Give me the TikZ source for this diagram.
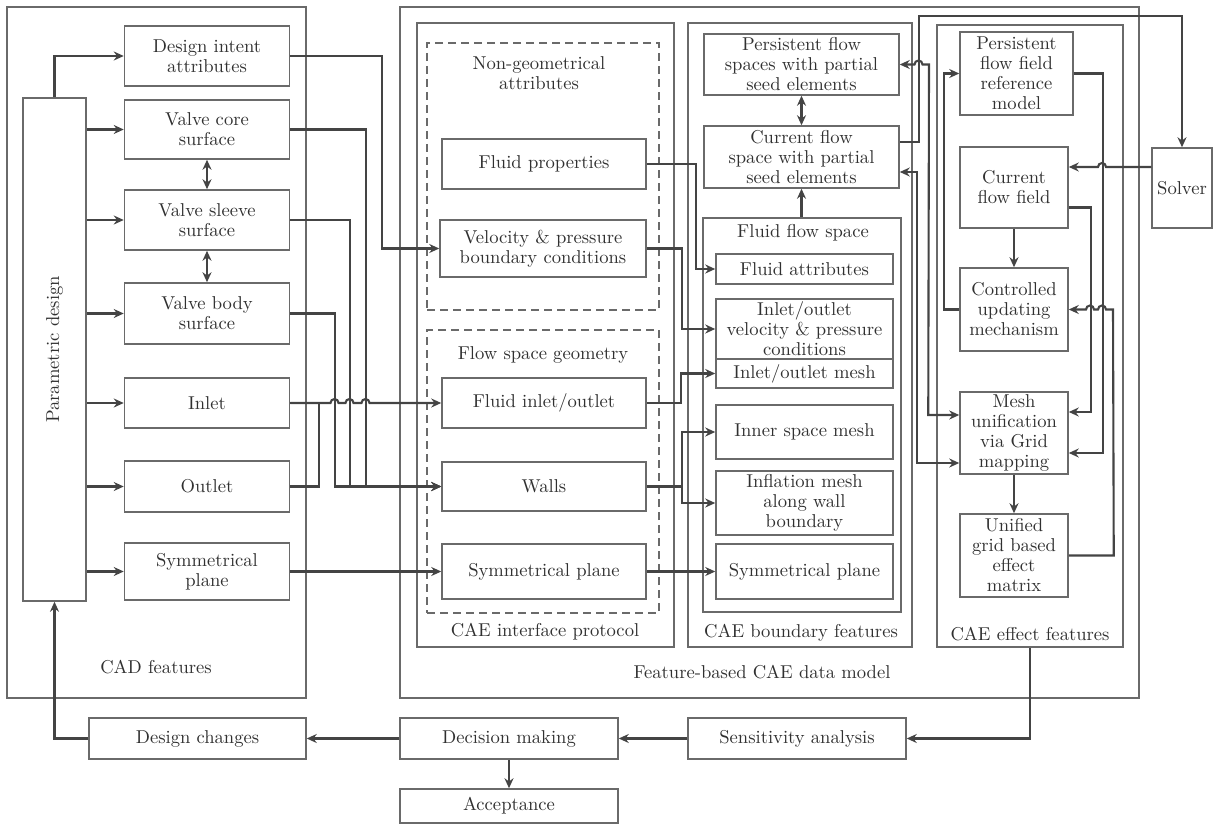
\documentclass[tikz,border=0pt]{standalone}
\usepackage{fontspec}
\setmainfont{lmroman10-regular.otf}
\usepackage{tikz}
\usetikzlibrary{arrows.meta}
\definecolor{inkgray}{HTML}{303030}
\definecolor{edgegray}{HTML}{6A6A6A}
\definecolor{wiregray}{HTML}{444444}

\begin{document}
\begin{tikzpicture}[x=1pt,y=-1pt,
	font=\fontsize{18.6}{20}\selectfont, text=inkgray,
	box/.style={draw=edgegray,line width=1.5pt,align=center,inner sep=1pt},
	frame/.style={draw=edgegray,line width=1.5pt,inner sep=0pt},
	dframe/.style={frame,dash pattern=on 8pt off 5pt},
	link/.style={draw=wiregray,line width=2.1pt},
	conn/.style={link,-{Stealth[length=10pt,width=9pt]}},
	dconn/.style={link,{Stealth[length=10pt,width=9pt]}-{Stealth[length=10pt,width=9pt]}},
	]
	\useasboundingbox (0,0) rectangle (1213,824);
	
	% frames
	\node[frame,minimum width=299,minimum height=691] (cad) at (156.5,352.5) {};
	\node[frame,minimum width=739,minimum height=691] (fbm) at (769.5,352.5) {};
	\node[frame,minimum width=257,minimum height=624] (cip) at (545.5,335) {};
	\node[dframe,minimum width=232,minimum height=267] (nga) at (543,176.5) {};
	\node[dframe,minimum width=232,minimum height=283] (fsg) at (543,471.5) {};
	\node[frame,minimum width=224,minimum height=624] (cbf) at (800,335) {};
	\node[frame,minimum width=198,minimum height=394] (ffs) at (802,415) {};
	\node[frame,minimum width=186,minimum height=622] (cef) at (1030,336) {};
	
	\node (cadlbl) at (156,667) {CAD features};
	\node (fbmlbl) at (762,672) {Feature-based CAE data model};
	\node (ciplbl) at (545,632) {CAE interface protocol};
	\node (cbflbl) at (801,633) {CAE boundary features};
	\node (ceflbl) at (1030,634) {CAE effect features};
	\node[align=center] (ngalbl) at (539,73) {Non-geometrical\\attributes};
	\node (fsglbl) at (543,355) {Flow space geometry};
	\node (ffslbl) at (803,233) {Fluid flow space};
	
	% CAD features
	\node[box,minimum width=63,minimum height=503] (par) at (54.5,349.5) {};
	\node[rotate=90] (partxt) at (par.center) {Parametric design};
	\node[box,minimum width=165,minimum height=60] (dia) at (207,56) {Design intent\\attributes};
	\node[box,minimum width=165,minimum height=59] (vcore) at (207,129.5) {Valve core\\surface};
	\node[box,minimum width=165,minimum height=60] (vsleeve) at (207,220) {Valve sleeve\\surface};
	\node[box,minimum width=165,minimum height=61] (vbody) at (207,313.5) {Valve body\\surface};
	\node[box,minimum width=165,minimum height=50] (inl) at (207,403) {Inlet};
	\node[box,minimum width=165,minimum height=51] (outl) at (207,486.5) {Outlet};
	\node[box,minimum width=165,minimum height=57] (symc) at (207,571.5) {Symmetrical\\plane};
	
	% CAE interface protocol
	\node[box,minimum width=204,minimum height=50] (fp) at (544,164) {Fluid properties};
	\node[box,minimum width=206,minimum height=57] (vpb) at (543,248.5) {Velocity \& pressure\\boundary conditions};
	\node[box,minimum width=204,minimum height=50] (fio) at (544,403) {Fluid inlet/outlet};
	\node[box,minimum width=204,minimum height=49] (wal) at (544,486.5) {Walls};
	\node[box,minimum width=204,minimum height=55] (symi) at (544,571.5) {Symmetrical plane};
	
	% CAE boundary features
	\node[box,minimum width=195,minimum height=61] (pfs) at (801.5,64.5) {Persistent flow\\spaces with partial\\seed elements};
	\node[box,minimum width=195,minimum height=62] (cfs) at (801.5,157) {Current flow\\space with partial\\seed elements};
	\node[box,minimum width=177,minimum height=30] (fat) at (804.5,269) {Fluid attributes};
	\node[box,minimum width=177,minimum height=60] (vpc) at (804.5,329) {Inlet/outlet\\velocity \& pressure\\conditions};
	\node[box,minimum width=177,minimum height=29] (iom) at (804.5,373.5) {Inlet/outlet mesh};
	\node[box,minimum width=177,minimum height=54] (ism) at (804.5,432) {Inner space mesh};
	\node[box,minimum width=177,minimum height=64] (inf) at (804.5,503) {Inflation mesh\\along wall\\boundary};
	\node[box,minimum width=177,minimum height=55] (symb) at (804.5,571.5) {Symmetrical plane};
	
	% CAE effect features
	\node[box,minimum width=113,minimum height=83] (pfr) at (1016.5,73.5) {Persistent\\flow field\\reference\\model};
	\node[box,minimum width=108,minimum height=81] (cff) at (1014,187.5) {Current\\flow field};
	\node[box,minimum width=108,minimum height=83] (cum) at (1014,309.5) {Controlled\\updating\\mechanism};
	\node[box,minimum width=108,minimum height=82] (mug) at (1014,433) {Mesh\\unification\\via Grid\\mapping};
	\node[box,minimum width=108,minimum height=83] (ugm) at (1014,555.5) {Unified\\grid based\\effect\\matrix};
	\node[box,minimum width=60,minimum height=80] (sol) at (1182,188) {Solver};
	
	% bottom row
	\node[box,minimum width=217,minimum height=41] (dch) at (197.5,738.5) {Design changes};
	\node[box,minimum width=218,minimum height=41] (dmk) at (509,738.5) {Decision making};
	\node[box,minimum width=218,minimum height=41] (sens) at (797,738.5) {Sensitivity analysis};
	\node[box,minimum width=218,minimum height=34] (acc) at (509,806) {Acceptance};
	
	% CAD side
	\draw[conn] (par.north) |- (dia.west);
	\foreach \n in {vcore,vsleeve,vbody,inl,outl,symc}
		\draw[conn] (par.east |- \n.west) -- (\n.west);
	\draw[dconn] (vcore.south) -- (vsleeve.north);
	\draw[dconn] (vsleeve.south) -- (vbody.north);
	
	% CAD -> interface
	\draw[conn] (dia.east) -- ++(92,0) |- (vpb.west);
	\draw[conn] (vcore.east) -- ++(76,0) |- (wal.west);
	\draw[conn] (vsleeve.east) -- ++(60,0) |- (wal.west);
	\draw[conn] (vbody.east) -- ++(45,0) |- (wal.west);
	\draw[conn] (inl.east) -- (330.5,403) arc[start angle=180,end angle=360,radius=4]
		-- (345.5,403) arc[start angle=180,end angle=360,radius=4]
		-- (361.5,403) arc[start angle=180,end angle=360,radius=4] -- (fio.west);
	\draw[link] (outl.east) -- ++(29,0) |- (inl.east);
	\draw[conn] (symc.east) -- (symi.west);
	
	% interface -> boundary
	\draw[conn] (fp.east) -- ++(49,0) |- (fat.west);
	\draw[conn] (vpb.east) -- ++(35,0) |- (vpc.west);
	\draw[conn] (fio.east) -- ++(34,0) |- (iom.west);
	\draw[conn] (wal.east) -- ++(35,0) |- (ism.west);
	\draw[conn] (wal.east) -- ++(35,0) |- (inf.west);
	\draw[conn] (symi.east) -- (symb.west);
	\draw[dconn] (pfs.south) -- (cfs.north);
	\draw[conn] (cfs.south |- ffs.north) -- (cfs.south);
	
	% boundary <-> effect
	\draw[conn] ([yshift=15pt]cfs.east) -- ++(19.5,0) -- ++(0,-126) -| (sol.north);
	\draw[dconn] ([yshift=18pt]mug.west) -- ++(-31,0) -- (929,64.5)
		-- (922.5,64.5) arc[start angle=0,end angle=-180,radius=4] -- (pfs.east);
	\draw[dconn] ([yshift=-30pt]mug.west) -- ++(-42,0) |- ([yshift=-15pt]cfs.east);
	
	% effect features
	\draw[conn] (cum.west) -- ++(-15,0) |- (pfr.west);
	\draw[conn] (pfr.east) -- ++(29,0) |- ([yshift=-20pt]mug.east);
	\draw[conn] ([yshift=-20pt]cff.east) -- ++(22,0) |- ([yshift=21pt]mug.east);
	\draw[conn] (ugm.east) -- ++(45,0) -- (1113,309.5)
		-- (1106,309.5) arc[start angle=0,end angle=-180,radius=4]
		-- (1094,309.5) arc[start angle=0,end angle=-180,radius=4] -- (cum.east);
	\draw[conn] ([yshift=21pt]sol.west) -- (1106,167) arc[start angle=0,end angle=-180,radius=4]
		-- ([yshift=20.5pt]cff.east);
	\draw[conn] (cff.south) -- (cum.north);
	\draw[conn] (mug.south) -- (ugm.north);
	
	% evaluation loop
	\draw[conn] (cef.south) |- (sens.east);
	\draw[conn] (sens.west) -- (dmk.east);
	\draw[conn] (dmk.west) -- (dch.east);
	\draw[conn] (dmk.south) -- (acc.north);
	\draw[conn] (dch.west) -| (par.south);
\end{tikzpicture}
\end{document}
